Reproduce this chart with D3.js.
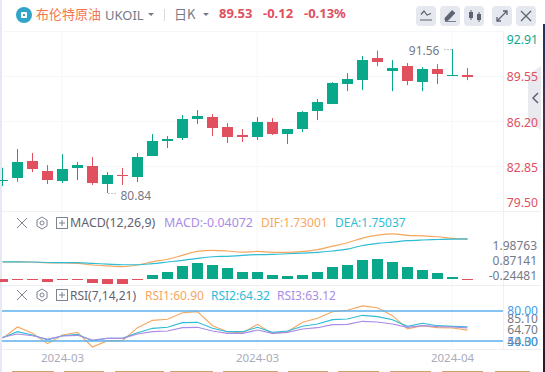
<!DOCTYPE html>
<html>
<head>
<meta charset="utf-8">
<script src="https://cdn.jsdelivr.net/npm/d3@7"></script>
<style>
html, body { margin: 0; padding: 0; background: #fff; overflow: hidden; }
svg { display: block; }
text { font-family: "Noto Sans", "Noto Sans CJK SC", sans-serif; }
</style>
</head>
<body>
<div id="chart"></div>
<script>
// daily candles
const open = [81.73, 81.96, 83.22, 82.48, 81.73, 82.70, 82.85, 81.51, 82.18, 82.03, 83.59, 84.71, 84.93, 86.35, 86.50, 85.75, 85.16, 85.01, 86.13, 85.23, 85.60, 86.94, 87.47, 88.95, 89.25, 90.89, 89.92, 90.29, 89.10, 90.07, 89.60, 89.65];
const high = [82.72, 84.12, 83.82, 82.92, 83.74, 83.15, 83.52, 82.40, 82.70, 83.82, 85.23, 85.08, 86.65, 87.02, 86.72, 86.05, 85.60, 86.50, 86.42, 85.60, 86.94, 87.84, 89.10, 89.77, 91.04, 91.45, 90.74, 90.52, 90.22, 90.44, 91.56, 90.15];
const low = [81.36, 81.68, 82.40, 81.51, 81.58, 81.81, 81.44, 80.84, 81.44, 81.66, 83.59, 84.19, 84.79, 85.98, 85.08, 84.56, 84.64, 84.79, 85.16, 84.49, 85.38, 86.27, 87.47, 88.43, 88.51, 90.29, 88.43, 88.88, 88.43, 88.95, 89.55, 89.25];
const close = [81.81, 83.15, 82.63, 81.81, 82.63, 82.92, 81.58, 82.18, 82.11, 83.52, 84.71, 84.86, 86.35, 86.57, 85.68, 85.01, 85.01, 86.13, 85.23, 85.60, 86.87, 87.61, 89.03, 89.33, 90.74, 90.59, 90.15, 89.18, 90.07, 89.70, 89.65, 89.53];

// MACD(12,26,9)
const hist = [-0.13, -0.04, -0.04, -0.13, -0.04, -0.04, -0.17, -0.22, -0.22, -0.04, 0.17, 0.30, 0.57, 0.70, 0.61, 0.48, 0.30, 0.30, 0.17, 0.13, 0.17, 0.30, 0.52, 0.61, 0.83, 0.87, 0.74, 0.52, 0.39, 0.26, 0.09, -0.04];
const dif = [0.74, 0.75, 0.74, 0.70, 0.70, 0.68, 0.61, 0.57, 0.54, 0.61, 0.75, 0.86, 1.03, 1.20, 1.25, 1.22, 1.17, 1.20, 1.16, 1.16, 1.20, 1.28, 1.43, 1.58, 1.78, 1.91, 1.97, 1.90, 1.88, 1.84, 1.77, 1.73];
const dea = [0.75, 0.75, 0.74, 0.72, 0.71, 0.71, 0.68, 0.65, 0.62, 0.62, 0.67, 0.74, 0.81, 0.90, 0.97, 0.99, 1.03, 1.06, 1.07, 1.10, 1.13, 1.16, 1.22, 1.30, 1.46, 1.55, 1.61, 1.67, 1.70, 1.72, 1.74, 1.75];

// RSI(7,14,21)
const rsi1 = [52.67, 64.00, 57.67, 47.33, 56.00, 58.67, 44.00, 50.33, 50.33, 63.33, 70.67, 71.67, 78.33, 79.33, 65.33, 59.33, 58.00, 66.67, 57.33, 59.33, 68.67, 72.67, 79.33, 80.67, 85.10, 83.33, 75.33, 62.00, 65.33, 63.33, 63.00, 60.90];
const rsi2 = [53.33, 59.33, 56.00, 51.00, 55.33, 56.67, 50.00, 52.67, 52.67, 58.33, 62.67, 63.67, 68.33, 68.67, 62.67, 59.33, 59.33, 63.67, 58.67, 60.00, 64.67, 67.00, 71.33, 72.00, 75.67, 74.33, 71.33, 64.67, 67.67, 65.33, 64.67, 64.32];
const rsi3 = [53.67, 57.00, 55.33, 52.00, 55.00, 55.67, 51.00, 52.67, 52.67, 57.00, 59.33, 60.00, 63.33, 63.67, 60.00, 57.67, 57.67, 61.00, 57.67, 58.67, 62.00, 63.33, 66.33, 66.67, 69.67, 69.00, 67.00, 63.67, 65.33, 64.33, 64.00, 63.12];

const priceTicks = ['92.91', '89.55', '86.20', '82.85', '79.50'];
const macdTicks = ['1.98763', '0.87141', '-0.24481'];
const dateLabels = ['2024-03', '2024-03', '2024-04'];
const dateIndex = [4, 17, 30];

const up = '#0aa88a', down = '#e0505f', orange = '#f6a75f', cyan = '#2fbcd6', purple = '#a98ce6', blue = '#5cb0ee';
const grey = '#767986', gridColor = '#f6f7fa', axisGrey = '#a9acbb';

const svg = d3.select('#chart').append('svg').attr('width', 545).attr('height', 372);

const x = d3.scaleLinear().domain([0, 31]).range([2.5, 467.5]);
const yPrice = d3.scaleLinear().domain([79.50, 92.91]).range([211, 31]);
const yMacd = d3.scaleLinear().domain([0, 0.87141]).range([279, 259]);
const yRsi = d3.scaleLinear().domain([50, 80]).range([341, 311]);

// collapse tab sits under the axis labels
svg.append('path').attr('d', 'M541 66L528 75V122L541 130Z').attr('fill', '#e9e9f0');

// frame and grid
svg.append('rect').attr('x', 0).attr('y', 0).attr('width', 2).attr('height', 372).attr('fill', '#e6e9f1');
const hGrid = [31, 76, 121, 166];
svg.selectAll('.hgrid').data(hGrid).enter().append('line')
    .attr('x1', 3).attr('x2', 503).attr('y1', d => d + 0.5).attr('y2', d => d + 0.5)
    .attr('stroke', gridColor);
svg.selectAll('.vgrid').data(dateIndex).enter().append('line')
    .attr('x1', d => Math.floor(x(d))).attr('x2', d => Math.floor(x(d)))
    .attr('y1', 31).attr('y2', 349).attr('stroke', gridColor);
[211, 285, 349].forEach(y => {
    svg.append('line').attr('x1', 2).attr('x2', 541).attr('y1', y + 0.5).attr('y2', y + 0.5).attr('stroke', '#eff0f4');
});
svg.append('line').attr('x1', 503.5).attr('x2', 503.5).attr('y1', 31).attr('y2', 349).attr('stroke', '#eff0f4');

// candles
const candles = svg.append('g');
open.forEach((o, i) => {
    const c = close[i];
    const color = c >= o ? up : down;
    const px = x(i);
    candles.append('rect')
        .attr('x', px - 0.5).attr('width', 1)
        .attr('y', yPrice(high[i])).attr('height', yPrice(low[i]) - yPrice(high[i]))
        .attr('fill', color);
    const top = yPrice(Math.max(o, c));
    candles.append('rect')
        .attr('x', px - 5.5).attr('width', 11)
        .attr('y', Math.round(top)).attr('height', Math.max(1, Math.round(yPrice(Math.min(o, c)) - top)))
        .attr('fill', color);
});

// hi / lo callouts
const callout = (idx, val, txt, side) => {
    const px = x(idx), py = Math.round(yPrice(val));
    svg.append('line').attr('x1', px + side * 1).attr('x2', px + side * 10).attr('y1', py + 0.5).attr('y2', py + 0.5)
        .attr('stroke', '#8a8d99').attr('stroke-dasharray', '1,2');
    svg.append('text').attr('x', px + side * 13).attr('y', py + (side > 0 ? 7 : 6)).attr('text-anchor', side > 0 ? 'start' : 'end')
        .attr('font-size', 12).attr('fill', grey).text(txt);
};
callout(30, 91.56, '91.56', -1);
callout(7, 80.84, '80.84', 1);

// price axis labels, nudged to stay inside the pane at both ends
const priceLabelY = [39, 76, 122, 167, 202];
svg.selectAll('.price').data(priceTicks).enter().append('text')
    .attr('x', 538).attr('y', (d, i) => priceLabelY[i] + 4.5)
    .attr('text-anchor', 'end').attr('font-size', 12.2)
    .attr('fill', (d, i) => i === 0 ? up : down).text(d => d);

// MACD pane
svg.selectAll('.bar').data(hist).enter().append('rect')
    .attr('x', (d, i) => x(i) - 5.5).attr('width', 11)
    .attr('y', d => d >= 0 ? Math.round(yMacd(d)) : 279)
    .attr('height', d => Math.max(1, Math.round(Math.abs(yMacd(d) - yMacd(0)))))
    .attr('fill', d => d >= 0 ? up : down);
const macdLine = d3.line().x((d, i) => x(i)).y(d => yMacd(d)).curve(d3.curveMonotoneX);
svg.append('path').attr('d', macdLine(dif)).attr('fill', 'none').attr('stroke', orange).attr('stroke-width', 1.2);
svg.append('path').attr('d', macdLine(dea)).attr('fill', 'none').attr('stroke', cyan).attr('stroke-width', 1.2);
const macdLabelY = [245, 260.5, 275.5];
svg.selectAll('.macd').data(macdTicks).enter().append('text')
    .attr('x', 537).attr('y', (d, i) => macdLabelY[i] + 4.5)
    .attr('text-anchor', 'end').attr('font-size', 12).attr('fill', grey).text(d => d);

// RSI pane
const rsiLine = d3.line().x((d, i) => x(i)).y(d => yRsi(d));
[[rsi1, orange], [rsi2, cyan], [rsi3, purple]].forEach(([vals, color]) => {
    svg.append('path').attr('d', rsiLine(vals)).attr('fill', 'none').attr('stroke', color).attr('stroke-width', 1.1);
});
[80, 50].forEach(v => {
    svg.append('line').attr('x1', 2).attr('x2', 503).attr('y1', yRsi(v)).attr('y2', yRsi(v))
        .attr('stroke', blue).attr('stroke-width', 1.5);
});
[['85.10', 318.5], ['64.70', 329.5], ['44.30', 341]].forEach(([t, y]) => {
    svg.append('text').attr('x', 538).attr('y', y + 4.5).attr('text-anchor', 'end')
        .attr('font-size', 12).attr('fill', grey).text(t);
});
[['80.00', 310.5], ['50.00', 341.5]].forEach(([t, y]) => {
    svg.append('text').attr('x', 538).attr('y', y + 4.5).attr('text-anchor', 'end')
        .attr('font-size', 12).attr('fill', '#3c9cec').text(t);
});

// time axis
svg.selectAll('.date').data(dateLabels).enter().append('text')
    .attr('x', (d, i) => x(dateIndex[i])).attr('y', 362).attr('text-anchor', 'middle')
    .attr('font-size', 11.5).attr('fill', axisGrey).text(d => d);

// pane title rows
const label = (px, py, txt, color, size) =>
    svg.append('text').attr('x', px).attr('y', py).attr('font-size', size || 12).attr('fill', color).text(txt);

const paneIcons = (py) => {
    const g = svg.append('g').attr('fill', 'none').attr('stroke', '#7f8290').attr('stroke-width', 1);
    g.append('path').attr('d', `M17 ${py - 5}L27 ${py + 5}M27 ${py - 5}L17 ${py + 5}`);
    g.append('path').attr('d', `M42 ${py - 6}L47 ${py - 3}V${py + 3}L42 ${py + 6}L37 ${py + 3}V${py - 3}Z`);
    g.append('circle').attr('cx', 42).attr('cy', py).attr('r', 2);
    g.append('rect').attr('x', 56.5).attr('y', py - 5.5).attr('width', 11).attr('height', 11);
    g.append('path').attr('d', `M59 ${py}H65M62 ${py - 3}V${py + 3}`);
};
paneIcons(223);
label(70, 227, 'MACD(12,26,9)', '#5f6270', 12.4);
label(164, 227, 'MACD:-0.04072', purple, 12.4);
label(261, 227, 'DIF:1.73001', orange);
label(335, 227, 'DEA:1.75037', cyan);

paneIcons(295);
label(70, 300, 'RSI(7,14,21)', '#5f6270');
label(145, 300, 'RSI1:60.90', orange);
label(211, 300, 'RSI2:64.32', cyan);
label(277, 300, 'RSI3:63.12', purple);

// header
svg.append('circle').attr('cx', 24).attr('cy', 15).attr('r', 8).attr('fill', '#2fa6c9');
svg.append('rect').attr('x', 21).attr('y', 12).attr('width', 6).attr('height', 6).attr('rx', 1).attr('fill', '#fff');
svg.append('rect').attr('x', 23).attr('y', 14).attr('width', 2).attr('height', 2).attr('fill', '#2fa6c9');
svg.append('text').attr('x', 36).attr('y', 19).attr('font-size', 13).attr('fill', '#f5764e')
    .style('font-family', '"Noto Sans CJK SC"').text('布伦特原油');
label(105, 20, 'UKOIL', '#767986', 13);
svg.append('path').attr('d', 'M148 13h6l-3 3z').attr('fill', '#767986');
svg.append('rect').attr('x', 164).attr('y', 9).attr('width', 1).attr('height', 12).attr('fill', '#d8dae0');
svg.append('text').attr('x', 174).attr('y', 19).attr('font-size', 13).attr('fill', '#767986')
    .style('font-family', '"Noto Sans CJK SC"').text('日K');
svg.append('path').attr('d', 'M203 13h6l-3 3z').attr('fill', '#767986');
svg.append('text').attr('x', 219).attr('y', 18).attr('font-size', 13).attr('font-weight', 700).attr('fill', down).text('89.53');
svg.append('text').attr('x', 263).attr('y', 18).attr('font-size', 13).attr('font-weight', 700).attr('fill', down).text('-0.12');
svg.append('text').attr('x', 304).attr('y', 18).attr('font-size', 13).attr('font-weight', 700).attr('fill', down).text('-0.13%');

// toolbar buttons
const buttonX = [416, 440, 464, 492, 516];
svg.selectAll('.btn').data(buttonX).enter().append('rect')
    .attr('x', d => d).attr('y', 6).attr('width', 20).attr('height', 20).attr('rx', 4).attr('fill', '#e6e8ef');
const iconStroke = '#5f6270';
svg.append('path').attr('d', 'M421 14.5L424 11L427 15L431 13.5M420 20H432').attr('fill', 'none').attr('stroke', iconStroke).attr('stroke-width', 1.2);
svg.append('path').attr('d', 'M445 18L452 10.5L455 13L448 20.5H445ZM445 21.5H456').attr('fill', iconStroke).attr('stroke', iconStroke).attr('stroke-width', 0.8);
svg.append('path').attr('d', 'M471 10V20M479 12V22').attr('stroke', iconStroke);
svg.append('rect').attr('x', 469).attr('y', 12).attr('width', 4).attr('height', 6).attr('fill', iconStroke);
svg.append('rect').attr('x', 477).attr('y', 14).attr('width', 4).attr('height', 6).attr('fill', iconStroke);
svg.append('path').attr('d', 'M497 21L507 11M503 11H507V15M497 17V21H501').attr('fill', 'none').attr('stroke', iconStroke).attr('stroke-width', 1.3);
svg.append('path').attr('d', 'M521 11L531 21M531 11L521 21').attr('stroke', iconStroke).attr('stroke-width', 1.3);

// chevron on the collapse tab and the page showing behind the widget
svg.append('path').attr('d', 'M538 93L533 98L538 103').attr('fill', 'none').attr('stroke', '#5f6270').attr('stroke-width', 1.5);
const strip = svg.append('defs').append('linearGradient').attr('id', 'strip').attr('x1', 0).attr('x2', 0).attr('y1', 0).attr('y2', 1);
[[0, '#27305e'], [0.25, '#4a2f45'], [0.6, '#3a1f2c'], [1, '#2c1a28']].forEach(([o, c]) => {
    strip.append('stop').attr('offset', o).attr('stop-color', c);
});
svg.append('rect').attr('x', 543).attr('y', 24).attr('width', 2).attr('height', 348).attr('fill', 'url(#strip)');

// orange tabs of the page below, cut off by the window edge
const tabStart = [12, 64, 115, 170, 223, 288, 338, 390, 442, 495];
const tabEnd = [54, 104, 164, 213, 278, 328, 379, 431, 483, 530];
tabStart.forEach((s, i) => {
    svg.append('rect').attr('x', s).attr('y', 371).attr('width', tabEnd[i] - s).attr('height', 1).attr('fill', '#c9a468');
});
</script>
</body>
</html>
